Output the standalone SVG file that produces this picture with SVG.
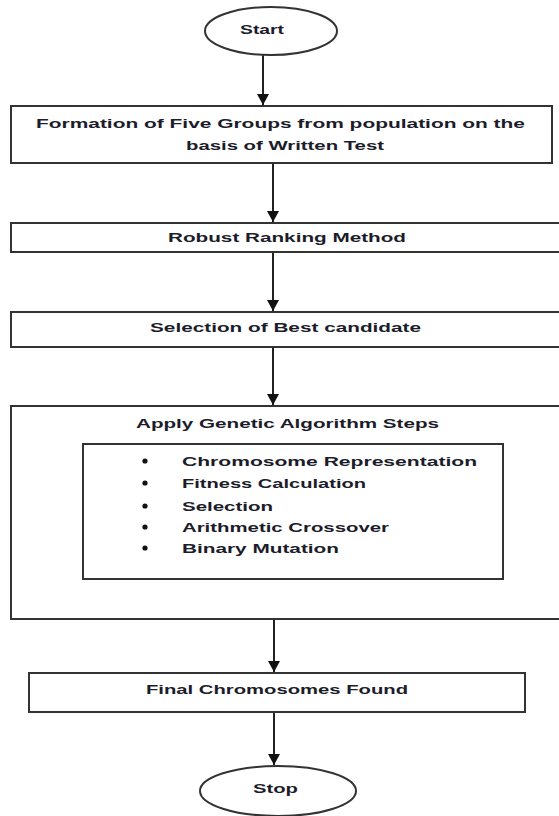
<svg xmlns="http://www.w3.org/2000/svg" width="559" height="816" viewBox="0 0 559 816">
<style>
.box{fill:#fff;stroke:#333;stroke-width:2}
.t{font-family:"Liberation Sans",Arial,sans-serif;font-size:12.5px;font-weight:bold;fill:#1c1c2a;text-anchor:middle}
.l{font-family:"Liberation Sans",Arial,sans-serif;font-size:12.5px;font-weight:bold;fill:#1c1c2a}
.c{stroke:#222;stroke-width:2;fill:none}
</style>
<defs>
<marker id="ah" markerUnits="userSpaceOnUse" markerWidth="12" markerHeight="12" refX="11" refY="6" orient="auto">
<path d="M0,0 L11,6 L0,12 Z" fill="#111"/>
</marker>
</defs>
<rect width="559" height="816" fill="#fff"/>
<g id="connectors">
<line class="c" x1="263" y1="55" x2="263" y2="105" marker-end="url(#ah)"/>
<line class="c" x1="273" y1="163" x2="273" y2="222" marker-end="url(#ah)"/>
<line class="c" x1="273" y1="252" x2="273" y2="311" marker-end="url(#ah)"/>
<line class="c" x1="273" y1="347" x2="273" y2="405" marker-end="url(#ah)"/>
<line class="c" x1="274" y1="620" x2="274" y2="672" marker-end="url(#ah)"/>
<line class="c" x1="274" y1="712" x2="274" y2="765" marker-end="url(#ah)"/>
</g>
<g id="start">
<ellipse class="box" cx="271" cy="31" rx="66" ry="24"/>
<text class="t" x="262" y="33.5" textLength="44" lengthAdjust="spacingAndGlyphs">Start</text>
</g>
<g id="formation">
<rect class="box" x="11" y="106" width="541" height="57"/>
<text class="t" x="280.5" y="127.5" textLength="489" lengthAdjust="spacingAndGlyphs">Formation  of Five Groups from population on the</text>
<text class="t" x="285" y="149.5" textLength="198" lengthAdjust="spacingAndGlyphs">basis of Written Test</text>
</g>
<g id="robust">
<rect class="box" x="11" y="223" width="560" height="29"/>
<text class="t" x="287" y="242" textLength="238" lengthAdjust="spacingAndGlyphs">Robust Ranking Method</text>
</g>
<g id="selection">
<rect class="box" x="11" y="312" width="560" height="35"/>
<text class="t" x="285.5" y="332" textLength="271" lengthAdjust="spacingAndGlyphs">Selection of Best candidate</text>
</g>
<g id="ga">
<rect class="box" x="11" y="406" width="560" height="213"/>
<text class="t" x="287.5" y="427.5" textLength="303" lengthAdjust="spacingAndGlyphs">Apply Genetic Algorithm Steps</text>
<g id="ga-steps">
<rect class="box" x="83" y="444" width="420" height="135"/>
<circle cx="145" cy="461" r="2.6" fill="#111"/>
<circle cx="145" cy="483" r="2.6" fill="#111"/>
<circle cx="145" cy="506" r="2.6" fill="#111"/>
<circle cx="145" cy="527" r="2.6" fill="#111"/>
<circle cx="145" cy="548" r="2.6" fill="#111"/>
<text class="l" x="182" y="465.5" textLength="295" lengthAdjust="spacingAndGlyphs">Chromosome Representation</text>
<text class="l" x="182" y="487.5" textLength="184" lengthAdjust="spacingAndGlyphs">Fitness Calculation</text>
<text class="l" x="182" y="510.5" textLength="91" lengthAdjust="spacingAndGlyphs">Selection</text>
<text class="l" x="182" y="531.5" textLength="207" lengthAdjust="spacingAndGlyphs">Arithmetic Crossover</text>
<text class="l" x="182" y="552.5" textLength="157" lengthAdjust="spacingAndGlyphs">Binary Mutation</text>
</g>
</g>
<g id="final">
<rect class="box" x="29" y="673" width="496" height="39"/>
<text class="t" x="277" y="693.5" textLength="262" lengthAdjust="spacingAndGlyphs">Final Chromosomes Found</text>
</g>
<g id="stop">
<ellipse class="box" cx="278" cy="791" rx="78" ry="25"/>
<text class="t" x="275.5" y="792.5" textLength="45" lengthAdjust="spacingAndGlyphs">Stop</text>
</g>
</svg>
